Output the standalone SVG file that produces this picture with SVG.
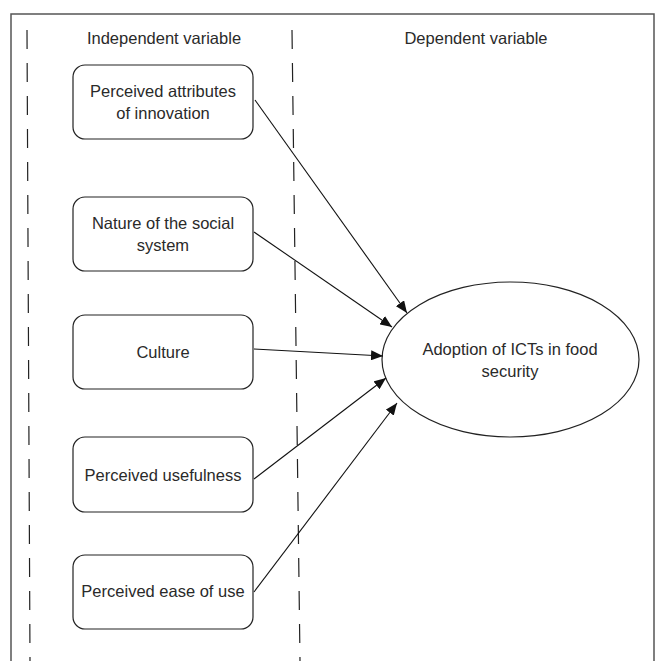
<svg xmlns="http://www.w3.org/2000/svg" width="657" height="661" viewBox="0 0 657 661">
<defs>
<marker id="arr" viewBox="0 0 12 10" refX="12" refY="5" markerWidth="12" markerHeight="10" markerUnits="userSpaceOnUse" orient="auto">
<path d="M0,0 L12,5 L0,10 z" fill="#111"/>
</marker>
<style>
.box{fill:#fff;stroke:#222;stroke-width:1.2}
.t{font-family:"Liberation Sans",Arial,sans-serif;font-size:16.5px;fill:#2a2a2a;text-anchor:middle}
.dash{stroke:#222;stroke-width:1.2;stroke-dasharray:19 14;fill:none}
.c{stroke:#111;stroke-width:1.1;fill:none;marker-end:url(#arr)}
</style>
</defs>
<rect width="657" height="661" fill="#fff"/>
<g id="frame">
<path d="M11,661 V14 H654 V661" fill="none" stroke="#555" stroke-width="1.5"/>
</g>
<g id="dividers">
<line class="dash" x1="27" y1="30" x2="30" y2="661"/>
<line class="dash" x1="292" y1="30" x2="300" y2="661"/>
</g>
<g id="headers">
<text class="t" x="164" y="44">Independent variable</text>
<text class="t" x="476" y="44">Dependent variable</text>
</g>
<g id="n1"><rect class="box" x="73" y="65" width="180" height="74" rx="12"/><text class="t" x="163" y="97">Perceived attributes</text><text class="t" x="163" y="119">of innovation</text></g>
<g id="n2"><rect class="box" x="73" y="197" width="180" height="74" rx="12"/><text class="t" x="163" y="229">Nature of the social</text><text class="t" x="163" y="251">system</text></g>
<g id="n3"><rect class="box" x="73" y="315" width="180" height="74" rx="12"/><text class="t" x="163" y="358">Culture</text></g>
<g id="n4"><rect class="box" x="73" y="437" width="180" height="75" rx="12"/><text class="t" x="163" y="481">Perceived usefulness</text></g>
<g id="n5"><rect class="box" x="73" y="555" width="180" height="74" rx="12"/><text class="t" x="163" y="597">Perceived ease of use</text></g>
<g id="n6"><ellipse cx="510.5" cy="359.5" rx="128.5" ry="77.5" fill="#fff" stroke="#222" stroke-width="1.2"/><text class="t" x="510" y="355">Adoption of ICTs in food</text><text class="t" x="510" y="377">security</text></g>
<g id="connectors">
<line class="c" x1="255" y1="100" x2="407" y2="313"/>
<line class="c" x1="254" y1="232" x2="392" y2="327"/>
<line class="c" x1="254" y1="349" x2="383" y2="356"/>
<line class="c" x1="254" y1="479" x2="386" y2="378"/>
<line class="c" x1="254" y1="592" x2="397" y2="403"/>
</g>
</svg>
